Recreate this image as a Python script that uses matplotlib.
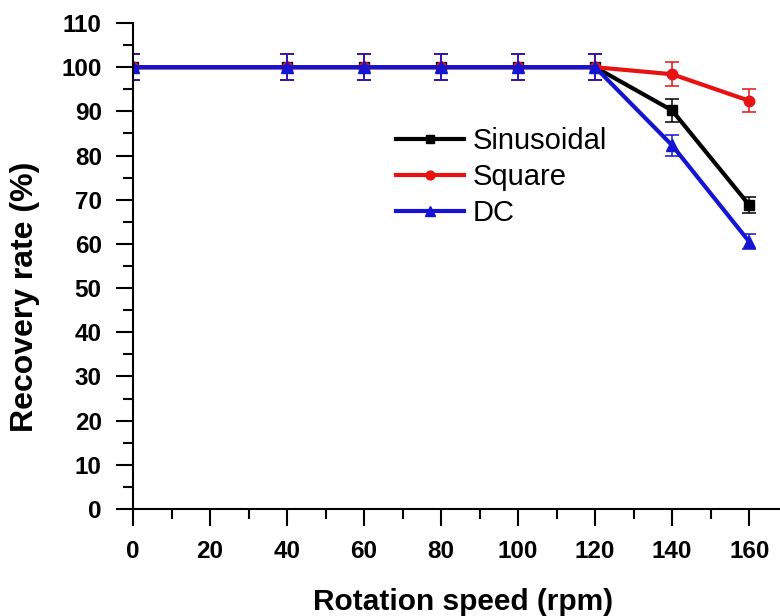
import matplotlib
matplotlib.use("Agg")
import matplotlib.pyplot as plt
from matplotlib.ticker import MultipleLocator

speed = [0, 40, 60, 80, 100, 120, 140, 160]
sinusoidal = [100, 100, 100, 100, 100, 100, 90.2, 68.8]
sinusoidal_err = [3, 3, 3, 3, 3, 3, 2.7, 1.9]
square = [100, 100, 100, 100, 100, 100, 98.4, 92.4]
square_err = [3, 3, 3, 3, 3, 3, 2.7, 2.6]
dc = [100, 100, 100, 100, 100, 100, 82.3, 60.5]
dc_err = [3, 3, 3, 3, 3, 3, 2.4, 1.7]

plt.rcParams["font.family"] = ["Liberation Sans", "DejaVu Sans"]

W, H = 780, 616
fig = plt.figure(figsize=(W / 100, H / 100), dpi=100)
ax = fig.add_axes([133 / W, 1 - 509 / H, (W - 133) / W, (509 - 23) / H])

series = [
    ("Sinusoidal", sinusoidal, sinusoidal_err, "black", "s", 7),
    ("Square", square, square_err, "#e81212", "o", 7.5),
    ("DC", dc, dc_err, "#1414d2", "^", 8),
]
handles = []
for name, vals, err, col, mk, ms in series:
    cont = ax.errorbar(speed, vals, yerr=err, color=col, marker=mk, markersize=ms,
                       linewidth=3, elinewidth=1.1, capsize=4.7, capthick=1.1,
                       ecolor=col, label=name)
    handles.append(cont.lines[0])

ax.set_xlim(0, 168)
ax.set_ylim(0, 110)
ax.xaxis.set_major_locator(MultipleLocator(20))
ax.xaxis.set_minor_locator(MultipleLocator(10))
ax.yaxis.set_major_locator(MultipleLocator(10))
ax.yaxis.set_minor_locator(MultipleLocator(5))
for s in ("top", "right"):
    ax.spines[s].set_visible(False)
for s in ("left", "bottom"):
    ax.spines[s].set_linewidth(1.5)
ax.tick_params(which="major", direction="out", length=12.5, width=1.5,
               labelsize=17.5, pad=10)
ax.tick_params(which="minor", direction="out", length=7, width=1.5)
for lab in ax.get_xticklabels() + ax.get_yticklabels():
    lab.set_fontweight("bold")

ax.set_xlabel("Rotation speed (rpm)", fontsize=21.5, fontweight="bold")
ax.xaxis.set_label_coords((463 - 133) / 647, (509 - 588) / 486)
ax.set_ylabel("Recovery rate (%)", fontsize=23, fontweight="bold")
ax.yaxis.set_label_coords((40 - 133) / 647, (509 - 297) / 486)

ax.legend(handles=handles, labels=[s[0] for s in series],
          loc="upper left", bbox_to_anchor=(396 / W, 1 - 127 / H),
          bbox_transform=fig.transFigure, frameon=False, borderpad=0,
          borderaxespad=0, fontsize=21, handlelength=2.33, handletextpad=0.3,
          labelspacing=0.27, numpoints=1, markerscale=0.85)

fig.savefig("out.png", dpi=100)
